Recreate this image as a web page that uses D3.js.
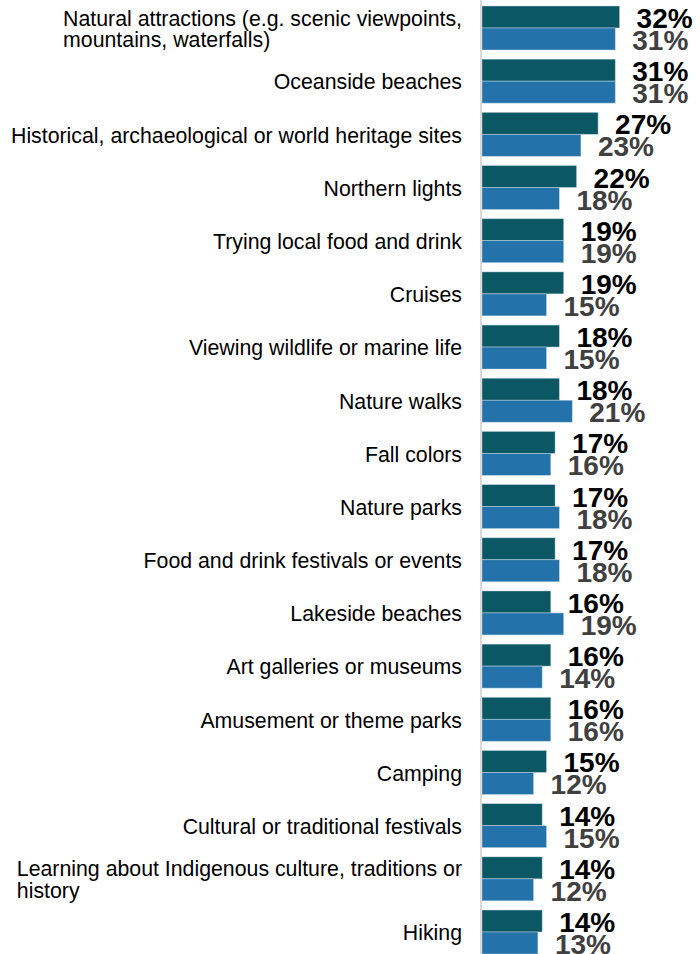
<!DOCTYPE html>
<html>
<head>
<meta charset="utf-8">
<script src="https://cdn.jsdelivr.net/npm/d3@7"></script>
<style>
  html, body { margin: 0; padding: 0; background: #ffffff; }
  svg { display: block; }
</style>
</head>
<body>
<script>
// Activities of interest, two survey waves (percent of respondents)
const categories = [
  ["Natural attractions (e.g. scenic viewpoints,", "mountains, waterfalls)"],
  ["Oceanside beaches"],
  ["Historical, archaeological or world heritage sites"],
  ["Northern lights"],
  ["Trying local food and drink"],
  ["Cruises"],
  ["Viewing wildlife or marine life"],
  ["Nature walks"],
  ["Fall colors"],
  ["Nature parks"],
  ["Food and drink festivals or events"],
  ["Lakeside beaches"],
  ["Art galleries or museums"],
  ["Amusement or theme parks"],
  ["Camping"],
  ["Cultural or traditional festivals"],
  ["Learning about Indigenous culture, traditions or", "history"],
  ["Hiking"]
];
const seriesA = [32, 31, 27, 22, 19, 19, 18, 18, 17, 17, 17, 16, 16, 16, 15, 14, 14, 14];
const seriesB = [31, 31, 23, 18, 19, 15, 15, 21, 16, 18, 18, 19, 14, 16, 12, 15, 12, 13];
const seriesNames = ["A", "B"];

const W = 700, H = 954;
const axisX = 482;
const labelRight = 462;

const svg = d3.select("body").append("svg")
  .attr("width", W).attr("height", H);

const rows = categories.map((c, i) => ({ idx: i, lines: c, A: seriesA[i], B: seriesB[i] }));

const y = d3.scaleBand()
  .domain(d3.range(categories.length))
  .range([1.4, 958.6])
  .paddingInner(0.1726)
  .paddingOuter(0.0863);

const ySub = d3.scaleBand()
  .domain(seriesNames)
  .range([0, y.bandwidth()])
  .padding(0);

const x = d3.scaleLinear().domain([0, 50]).range([axisX, axisX + 215]);

const color = d3.scaleOrdinal().domain(seriesNames).range(["#0b5864", "#2373aa"]);
const labelColor = d3.scaleOrdinal().domain(seriesNames).range(["#000000", "#404040"]);

// Bars
const groups = svg.append("g").selectAll("g")
  .data(rows).join("g")
  .attr("transform", d => `translate(0,${y(d.idx)})`);

groups.selectAll("rect")
  .data(d => seriesNames.map(s => ({ s, v: d[s] })))
  .join("rect")
  .attr("x", x(0))
  .attr("y", d => ySub(d.s))
  .attr("width", d => x(d.v) - x(0))
  .attr("height", ySub.bandwidth())
  .attr("fill", d => color(d.s))
  .attr("stroke", "#cfe0ea")
  .attr("stroke-opacity", 0.6)
  .attr("stroke-width", 0.75);

// Value labels
groups.selectAll("text.val")
  .data(d => seriesNames.map(s => ({ s, v: d[s] })))
  .join("text")
  .attr("class", "val")
  .attr("x", d => x(d.v) + 17)
  .attr("y", d => ySub(d.s) + ySub.bandwidth() / 2 + 11)
  .attr("font-family", "Liberation Sans, Arial, sans-serif")
  .attr("font-weight", "bold")
  .attr("font-size", 28)
  .attr("fill", d => labelColor(d.s))
  .text(d => d.v + "%");

// Category axis line
svg.append("line")
  .attr("x1", axisX - 1).attr("x2", axisX - 1)
  .attr("y1", 0).attr("y2", H)
  .attr("stroke", "#d9d9d9")
  .attr("stroke-width", 2);

// Category labels: wrapped lines left-aligned within a right-aligned block
const lineH = 21.5;
const catLabels = svg.append("g").selectAll("text")
  .data(rows).join("text")
  .attr("font-family", "Liberation Sans, Arial, sans-serif")
  .attr("font-size", 21.3)
  .attr("fill", "#000000");

catLabels.each(function(d) {
  const t = d3.select(this);
  const cy = y(d.idx) + y.bandwidth() / 2;
  const n = d.lines.length;
  d.lines.forEach((ln, k) => {
    t.append("tspan")
      .attr("y", cy + 8.3 + (k - (n - 1) / 2) * lineH)
      .text(ln);
  });
  const spans = t.selectAll("tspan").nodes();
  const maxW = d3.max(spans, s => s.getComputedTextLength());
  t.selectAll("tspan").attr("x", labelRight - maxW);
});
</script>
</body>
</html>
